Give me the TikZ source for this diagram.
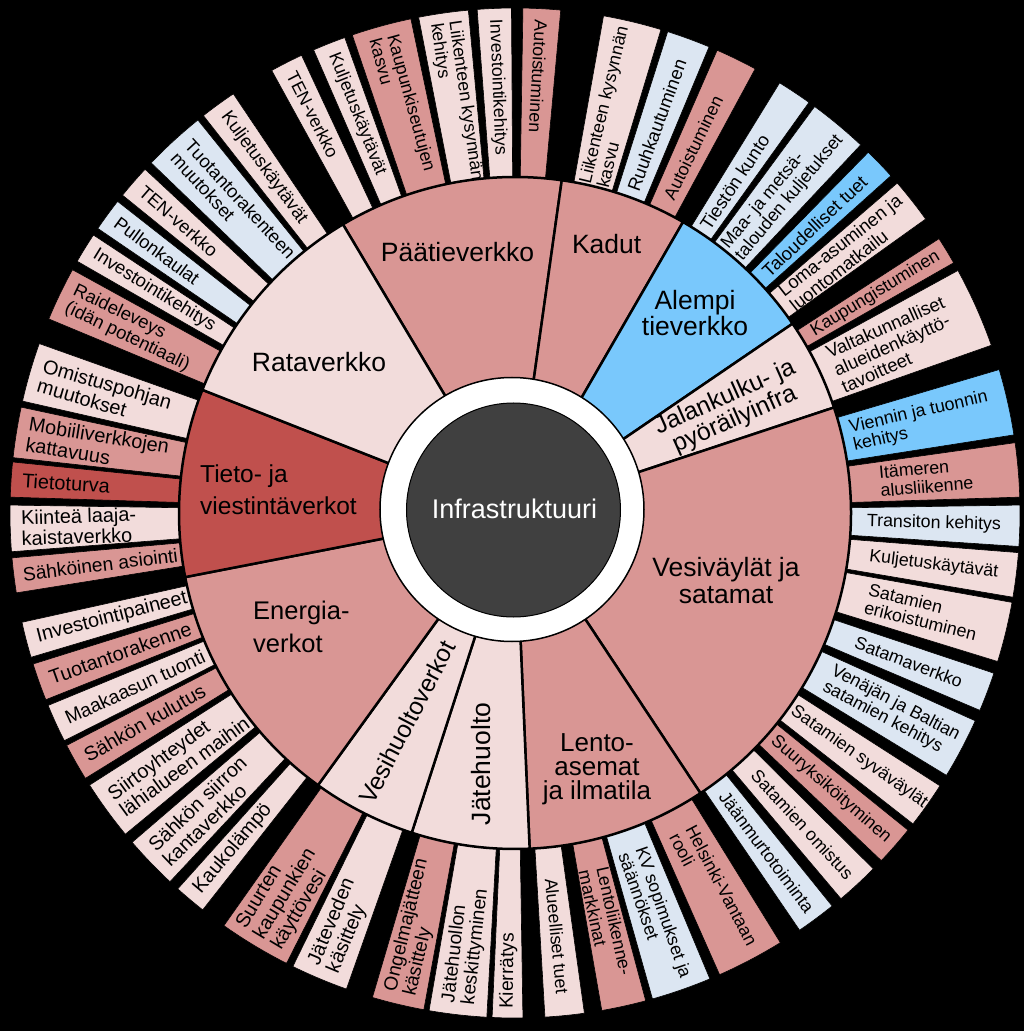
\documentclass[tikz,border=0pt]{standalone}
\usepackage{fontspec}
\setmainfont{Liberation Sans}
\definecolor{lpink}{HTML}{F2DCDB}
\definecolor{rose}{HTML}{D99694}
\definecolor{dred}{HTML}{C0504D}
\definecolor{lblue}{HTML}{DCE6F2}
\definecolor{sky}{HTML}{79C8FC}
\definecolor{core}{HTML}{404040}
\tikzset{
 otext/.style={anchor=west, align=left, inner sep=0pt, text=black},
 fA/.style={font=\fontsize{17.8}{18.4}\selectfont},
 fB/.style={font=\fontsize{18.4}{19}\selectfont},
 fC/.style={font=\fontsize{19.2}{19.8}\selectfont},
 fD/.style={font=\fontsize{19.9}{20.5}\selectfont},
 osegline/.style={draw=black, line width=0.6pt},
 msecline/.style={draw=black, line width=2.5pt, line join=round},
 mlab/.style={inner sep=0pt, text=black, font=\fontsize{26.5}{26.5}\selectfont},
}
\newcommand\outseg[8]{%
 \fill[#4, osegline] (#2:336) arc[start angle=#2, end angle=#3, radius=336] -- (#3:505) arc[start angle=#3, end angle=#2, radius=505] -- cycle;
 \pgfmathsetmacro\mida{((#2)+(#3))/2}%
 \ifx#5R%
  \node[otext, #6, rotate=\mida] (#1) at (\mida:#7) {#8};%
 \else
  \pgfmathsetmacro\rota{\mida+180}%
  \node[otext, #6, rotate=\rota] (#1) at (\mida:#7) {#8};%
 \fi}
\newcommand\midsec[3]{\filldraw[#3, msecline] (0,0) -- (#1:336) arc[start angle=#1, end angle=#2, radius=336] -- cycle;}
\begin{document}
\begin{tikzpicture}[x=1pt,y=1pt]
\fill[black] (-515,-518) rectangle (509,513);
\useasboundingbox (-515,-518) rectangle (509,513);
% Paatieverkko
\outseg{p1}{84.8}{89.1}{rose}{L}{fA}{494}{Autoistuminen}
\outseg{p2}{90.4}{94.3}{lpink}{L}{fA}{494}{Investointikehitys}
\outseg{p3}{95.3}{101.0}{lpink}{L}{fA}{496}{Liikenteen kysynnän\\kehitys}
\outseg{p4}{101.9}{108.8}{rose}{L}{fA}{494}{Kaupunkiseutujen\\kasvu}
\outseg{p5}{109.7}{113.5}{lpink}{L}{fA}{494}{Kuljetuskäytävät}
\outseg{p6}{115.0}{118.8}{lpink}{L}{fA}{494}{TEN-verkko}
% Kadut
\outseg{k1}{73.2}{79.9}{lpink}{R}{fA}{337}{Liikenteen kysynnän\\kasvu}
\outseg{k2}{67.4}{72.4}{lblue}{R}{fB}{343}{Ruuhkautuminen}
\outseg{k3}{61.6}{66.4}{rose}{R}{fA}{350}{Autoistuminen}
% Alempi tieverkko
\outseg{a1}{54.4}{58.4}{lblue}{R}{fB}{342}{Tiestön kunto}
\outseg{a2}{46.8}{53.6}{lblue}{R}{fA}{339}{Maa- ja metsä-\\talouden kuljetukset}
\outseg{a3}{41.9}{45.6}{sky}{R}{fB}{346}{Taloudelliset tuet}
\outseg{a4}{35.6}{40.8}{lpink}{R}{fB}{345}{Loma-asuminen ja\\luontomatkailu}
% Jalankulku
\outseg{j1}{29.7}{32.9}{rose}{R}{fA}{348}{Kaupungistuminen}
\outseg{j2}{19.4}{28.7}{lpink}{R}{fB}{350}{Valtakunnalliset\\alueidenkäyttö-\\tavoitteet}
% Vesivaylat
\outseg{v1}{8.9}{16.5}{sky}{R}{fA}{345}{Viennin ja tuonnin\\kehitys}
\outseg{v2}{1.8}{8.0}{rose}{R}{fA}{366}{Itämeren\\alusliikenne}
\outseg{v3}{-3.8}{0.9}{lblue}{R}{fA}{352}{Transiton kehitys}
\outseg{v4}{-9.6}{-4.5}{lpink}{R}{fA}{357}{Kuljetuskäytävät}
\outseg{v5}{-17.1}{-10.2}{lpink}{R}{fA}{362}{Satamien\\erikoistuminen}
\outseg{v6}{-23.0}{-18.5}{lblue}{R}{fA}{364}{Satamaverkko}
\outseg{v7}{-31.3}{-24.3}{lblue}{R}{fA}{354}{Venäjän ja Baltian\\satamien kehitys}
\outseg{v8}{-38.0}{-32.7}{lpink}{R}{fA}{340}{Satamien syväväylät}
\outseg{v9}{-43.5}{-38.9}{rose}{R}{fA}{343}{Suuryksiköityminen}
\outseg{v10}{-49.8}{-44.8}{lpink}{R}{fA}{353}{Satamien omistus}
\outseg{v11}{-55.7}{-51.1}{lblue}{R}{fA}{349}{Jäänmurtotoiminta}
% Lentoasemat
\outseg{l1}{-66.1}{-58.3}{rose}{R}{fA}{359}{Helsinki-Vantaan\\rooli}
\outseg{l2}{-74.2}{-67.3}{lblue}{R}{fA}{357}{KV sopimukset ja\\säännökset}
\outseg{l3}{-80.1}{-75.0}{rose}{R}{fA}{364}{Lentoliikenne-\\markkinat}
\outseg{l4}{-86.6}{-82.1}{lpink}{R}{fA}{367}{Alueelliset tuet}
% Jatehuolto
\outseg{w1}{-92.6}{-89.1}{lpink}{L}{fC}{496}{Kierrätys}
\outseg{w2}{-99.8}{-93.2}{lpink}{L}{fC}{494}{Jätehuollon\\keskittyminen}
\outseg{w3}{-106.4}{-100.4}{rose}{L}{fC}{494}{Ongelmajätteen\\käsittely}
% Vesihuolto
\outseg{h1}{-116.1}{-109.5}{lpink}{L}{fD}{494}{Jäteveden\\käsittely}
\outseg{h2}{-125.2}{-116.9}{rose}{L}{fD}{496}{Suurten\\kaupunkien\\käyttövesi}
% Energia
\outseg{e1}{-131.9}{-128.2}{lpink}{L}{fD}{494}{Kaukolämpö}
\outseg{e2}{-139.3}{-133.1}{lpink}{L}{fD}{494}{Sähkön siirron\\kantaverkko}
\outseg{e3}{-147.4}{-140.5}{lpink}{L}{fD}{494}{Siirtoyhteydet\\lähialueen maihin}
\outseg{e4}{-152.6}{-148.3}{rose}{L}{fD}{494}{Sähkön kulutus}
\outseg{e5}{-157.6}{-153.2}{lpink}{L}{fC}{494}{Maakaasun tuonti}
\outseg{e6}{-162.6}{-158.3}{rose}{L}{fD}{494}{Tuotantorakenne}
\outseg{e7}{-167.5}{-163.4}{lpink}{L}{fD}{494}{Investointipaineet}
% Tieto
\outseg{t1}{185.1}{189.1}{rose}{L}{fC}{496}{Sähköinen asiointi}
\outseg{t2}{179.1}{184.4}{lpink}{L}{fD}{494}{Kiinteä laaja-\\kaistaverkko}
\outseg{t3}{174.2}{178.2}{dred}{L}{fD}{494}{Tietoturva}
\outseg{t4}{167.9}{173.7}{rose}{L}{fD}{494}{Mobiiliverkkojen\\kattavuus}
\outseg{t5}{160.4}{167.2}{lpink}{L}{fD}{494}{Omistuspohjan\\muutokset}
% Rata
\outseg{r1}{151.2}{157.4}{rose}{L}{fB}{494}{Raideleveys\\(idän potentiaali)}
\outseg{r2}{146.6}{150.1}{lpink}{L}{fB}{494}{Investointikehitys}
\outseg{r3}{141.9}{145.7}{lblue}{L}{fB}{494}{Pullonkaulat}
\outseg{r4}{137.1}{141.0}{lpink}{L}{fB}{494}{TEN-verkko}
\outseg{r5}{128.9}{136.1}{lblue}{L}{fB}{494}{Tuotantorakenteen\\muutokset}
\outseg{r6}{123.9}{128.1}{lpink}{L}{fB}{494}{Kuljetuskäytävät}
% middle ring
\midsec{82}{120.8}{rose}
\midsec{60}{82}{rose}
\midsec{34.3}{60}{sky}
\midsec{18.3}{34.3}{lpink}
\midsec{-56.5}{18.3}{rose}
\midsec{-87.5}{-56.5}{rose}
\midsec{-107.9}{-87.5}{lpink}
\midsec{-125.9}{-107.9}{lpink}
\midsec{-169}{-125.9}{rose}
\midsec{158.5}{191}{dred}
\midsec{120.8}{158.5}{lpink}
% centre
\filldraw[fill=white, draw=black, line width=1.5pt] (-3,3.5) circle[radius=132];
\filldraw[fill=core, draw=black, line width=1pt] (-1.5,3) circle[radius=107];
% middle labels
\node[mlab] (pt) at (-57.5,261) {Päätieverkko};
\node[mlab] (kd) at (91.7,269) {Kadut};
\node[mlab, align=center, font=\fontsize{26.5}{23}\selectfont] (al) at (180,200) {Alempi\\tieverkko};
\node[mlab, align=center, rotate=24, font=\fontsize{24.7}{24}\selectfont] (jk) at (215,104) {Jalankulku- ja\\pyöräilyinfra};
\node[mlab, align=center, font=\fontsize{26.5}{27}\selectfont] (vv) at (211,-68) {Vesiväylät ja\\satamat};
\node[mlab, align=center, font=\fontsize{26}{24}\selectfont] (la) at (82,-256) {Lento-\\asemat\\ja ilmatila};
\node[mlab, rotate=90] (jh) at (-34,-251) {Jätehuolto};
\node[mlab, rotate=62.5, font=\fontsize{24.5}{24.5}\selectfont] (vh) at (-108,-209) {Vesihuoltoverkot};
\node[mlab, align=left, anchor=west, font=\fontsize{25.5}{33}\selectfont] (en) at (-262,-114) {Energia-\\verkot};
\node[mlab, align=left, anchor=west, font=\fontsize{24.5}{32}\selectfont] (tv) at (-315,23.5) {Tieto- ja\\viestintäverkot};
\node[mlab] (rv) at (-196,151) {Rataverkko};
\node[inner sep=0pt, text=white, font=\fontsize{27}{27}\selectfont] (inf) at (-0.5,4) {Infrastruktuuri};
\end{tikzpicture}
\end{document}
